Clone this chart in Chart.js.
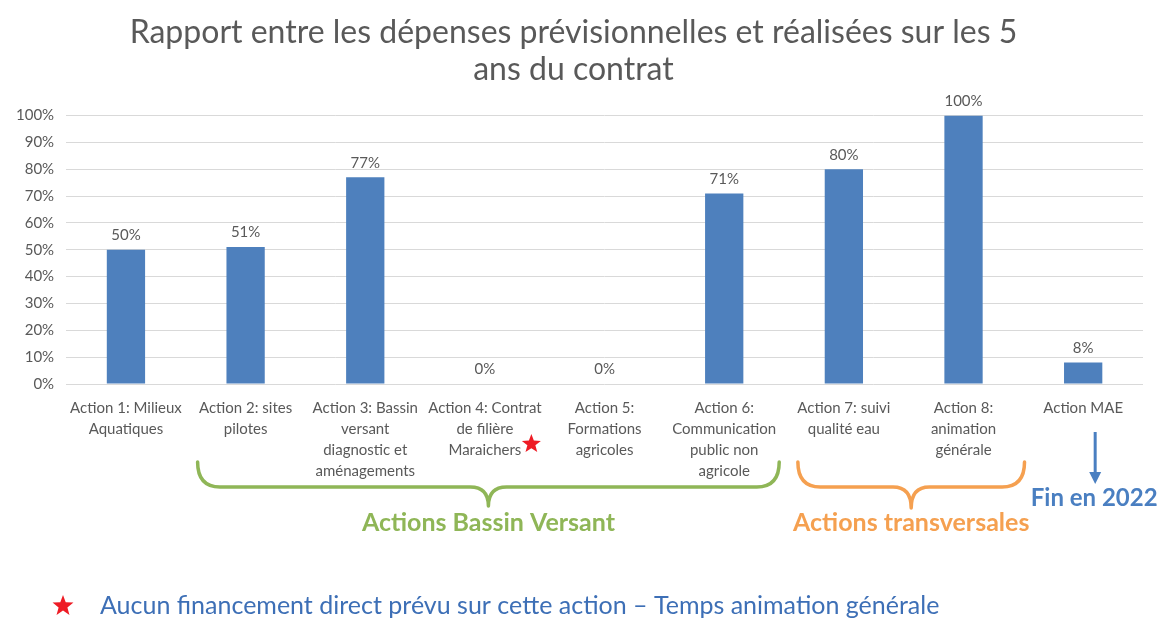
<!DOCTYPE html>
<html><head><meta charset="utf-8">
<script src="https://cdn.jsdelivr.net/npm/chart.js@4.4.1/dist/chart.umd.min.js"></script>
<style>html,body{margin:0;padding:0;background:#fff;}#wrap{width:1159px;height:619px;position:relative;}</style>
</head><body><div id="wrap"><canvas id="c"></canvas></div>
<script>
const categories = [
  ["Action 1: Milieux","Aquatiques"],
  ["Action 2: sites","pilotes"],
  ["Action 3: Bassin","versant","diagnostic et","aménagements"],
  ["Action 4: Contrat","de filière","Maraichers"],
  ["Action 5:","Formations","agricoles"],
  ["Action 6:","Communication","public non","agricole"],
  ["Action 7: suivi","qualité eau"],
  ["Action 8:","animation","générale"],
  ["Action MAE"]
];
const ratios = [50, 51, 77, 0, 0, 71, 80, 100, 8];
const yTicks = [0,10,20,30,40,50,60,70,80,90,100];
const titleLines = ["Rapport entre les dépenses prévisionnelles et réalisées sur les 5","ans du contrat"];
const groupLabels = ["Actions Bassin Versant","Actions transversales"];
const endLabel = "Fin en 2022";
const footnote = "Aucun financement direct prévu sur cette action – Temps animation générale";

const FONT = "Lato, 'Open Sans', sans-serif";
const GRAY = '#595959';

function brace(ctx, x1, x2, xm, yTop, yLine, yTip, color){
  const r = 14;
  ctx.save();
  ctx.strokeStyle = color; ctx.lineWidth = 3.5; ctx.lineCap='round'; ctx.lineJoin='round';
  ctx.beginPath();
  ctx.moveTo(x1, yTop);
  ctx.quadraticCurveTo(x1, yLine, x1 + r*1.6, yLine);
  ctx.lineTo(xm - r*1.3, yLine);
  ctx.quadraticCurveTo(xm, yLine, xm, yTip);
  ctx.quadraticCurveTo(xm, yLine, xm + r*1.3, yLine);
  ctx.lineTo(x2 - r*1.6, yLine);
  ctx.quadraticCurveTo(x2, yLine, x2, yTop);
  ctx.stroke();
  ctx.restore();
}
function star(ctx, cx, cy, R, color){
  const r = R*0.42;
  ctx.save(); ctx.fillStyle=color; ctx.beginPath();
  for(let i=0;i<10;i++){
    const a = -Math.PI/2 + i*Math.PI/5;
    const rr = i%2===0?R:r;
    const px = cx + rr*Math.cos(a), py = cy + rr*Math.sin(a);
    if(i===0) ctx.moveTo(px,py); else ctx.lineTo(px,py);
  }
  ctx.closePath(); ctx.fill(); ctx.restore();
}

const annot = {
  id:'annot',
  afterDatasetsDraw(chart){
    const ctx = chart.ctx;
    const meta = chart.getDatasetMeta(0);
    ctx.save();
    ctx.font = "15px " + FONT; ctx.fillStyle = GRAY; ctx.textAlign='center'; ctx.textBaseline='bottom';
    meta.data.forEach((b,i)=>{ ctx.fillText(ratios[i]+'%', b.x, b.y - 7); });
    ctx.restore();
  },
  afterDraw(chart){
    const ctx = chart.ctx;
    const xs = chart.scales.x;
    const px = i => xs.getPixelForValue(i);
    // star after Maraichers
    ctx.save();
    ctx.font = "15px " + FONT;
    const w = ctx.measureText("Maraichers").width;
    star(ctx, px(3) + w/2 + 10, 444, 10, '#ee1c25');
    ctx.restore();
    // braces
    const g1 = px(1) - 48, g2 = px(5) + 55, gm = (g1+g2)/2;
    brace(ctx, g1, g2, gm, 462, 487, 506, '#8fb657');
    const o1 = px(6) - 46, o2 = px(7) + 61, om = (o1+o2)/2;
    brace(ctx, o1, o2, om, 462, 487, 508, '#f5a050');
    ctx.save();
    ctx.font = "bold 25px " + FONT; ctx.textAlign='center'; ctx.textBaseline='middle';
    ctx.fillStyle = '#8fb657'; ctx.fillText(groupLabels[0], gm, 523);
    ctx.fillStyle = '#f5a050'; ctx.fillText(groupLabels[1], om, 523);
    // arrow
    const ax = px(8) + 12;
    ctx.strokeStyle = '#4a7fc1'; ctx.fillStyle='#4a7fc1'; ctx.lineWidth = 3;
    ctx.beginPath(); ctx.moveTo(ax, 432); ctx.lineTo(ax, 474); ctx.stroke();
    ctx.beginPath(); ctx.moveTo(ax-6, 472); ctx.lineTo(ax+6, 472); ctx.lineTo(ax, 484); ctx.closePath(); ctx.fill();
    ctx.font = "bold 24px " + FONT; ctx.fillStyle = '#4a7fc1';
    ctx.fillText(endLabel, ax - 1, 498);
    // footnote
    star(ctx, 63, 606, 11, '#ee1c25');
    ctx.font = "25px " + FONT; ctx.fillStyle = '#3d6fb6'; ctx.textAlign='left';
    ctx.fillText(footnote, 100, 606);
    ctx.restore();
  }
};

new Chart(document.getElementById('c'), {
  type:'bar',
  data:{ labels: categories, datasets:[{ data: ratios, backgroundColor:'#4e80bd', barPercentage:0.64, categoryPercentage:0.5 }]},
  options:{
    responsive:true, maintainAspectRatio:false, animation:false,
    layout:{ padding:{ left:4, right:16, top:0, bottom:131 } },
    plugins:{
      legend:{display:false}, tooltip:{enabled:false},
      title:{ display:true, text:titleLines, color:GRAY, font:{family:FONT, size:32, weight:'normal', lineHeight:1.15}, padding:{top:14,bottom:28} }
    },
    scales:{
      x:{ grid:{display:false}, border:{display:false},
          ticks:{ color:GRAY, font:{family:FONT, size:15, lineHeight:1.4}, maxRotation:0, autoSkip:false, padding:6 } },
      y:{ min:0, max:100, afterBuildTicks: s => { s.ticks = yTicks.map(v=>({value:v})); },
          grid:{ color:'#d9d9d9', drawTicks:false }, border:{display:false},
          ticks:{ color:GRAY, font:{family:FONT, size:15}, padding:12, callback: v => v + '%' } }
    }
  },
  plugins:[annot]
});
</script></body></html>
